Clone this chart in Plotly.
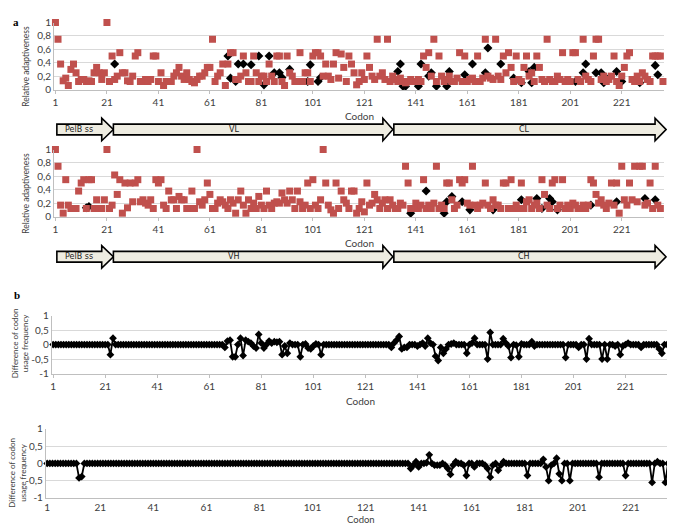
import plotly.graph_objects as go

# ---------------- data ----------------
codon_ticks = [1, 21, 41, 61, 81, 101, 121, 141, 161, 181, 201, 221]
codon_tick_text = ["1", "21", "41", "61", "81", "101", "121", "141", "161", "181", "201", "221"]

ra_ticks = [0, 0.2, 0.4, 0.6, 0.8, 1]
ra_tick_text = ["0", "0,2", "0,4", "0,6", "0,8", "1"]
diff_ticks = [-1, -0.5, 0, 0.5, 1]
diff_tick_text = ["-1", "-0,5", "0", "0,5", "1"]

# light chain: relative adaptiveness (original, red squares), codons 1..237
light_red = [
    1.0, 0.75, 0.38, 0.13, 0.17, 0.06, 0.3, 0.38, 0.25, 0.12,
    0.15, 0.15, 0.12, 0.13, 0.12, 0.25, 0.33, 0.25, 0.15, 0.25,
    1.0, 0.12, 0.5, 0.15, 0.2, 0.55, 0.25, 0.25, 0.13, 0.12,
    0.2, 0.5, 0.55, 0.12, 0.12, 0.15, 0.12, 0.15, 0.5, 0.5,
    0.12, 0.25, 0.06, 0.12, 0.12, 0.12, 0.2, 0.25, 0.33, 0.2,
    0.15, 0.25, 0.15, 0.12, 0.1, 0.15, 0.2, 0.2, 0.25, 0.33,
    0.33, 0.75, 0.12, 0.2, 0.25, 0.38, 0.06, 0.38, 0.55, 0.55,
    0.15, 0.15, 0.2, 0.5, 0.25, 0.12, 0.12, 0.5, 0.25, 0.12,
    0.2, 0.2, 0.12, 0.38, 0.2, 0.12, 0.5, 0.5, 0.12, 0.06,
    0.5, 0.25, 0.2, 0.12, 0.12, 0.55, 0.12, 0.25, 0.25, 0.12,
    0.5, 0.55, 0.55, 0.5, 0.2, 0.38, 0.2, 0.15, 0.38, 0.55,
    0.17, 0.53, 0.33, 0.12, 0.5, 0.38, 0.25, 0.07, 0.12, 0.25,
    0.15, 0.5, 0.33, 0.2, 0.15, 0.75, 0.2, 0.25, 0.15, 0.75,
    0.12, 0.2, 0.15, 0.12, 0.17, 0.12, 0.1, 0.12, 0.15, 0.12,
    0.12, 0.15, 0.12, 0.5, 0.33, 0.55, 0.2, 0.75, 0.12, 0.5,
    0.2, 0.12, 0.15, 0.2, 0.12, 0.12, 0.17, 0.55, 0.12, 0.5,
    0.12, 0.15, 0.17, 0.12, 0.5, 0.12, 0.17, 0.75, 0.2, 0.17,
    0.15, 0.75, 0.2, 0.15, 0.5, 0.25, 0.55, 0.33, 0.12, 0.5,
    0.15, 0.12, 0.33, 0.5, 0.2, 0.25, 0.12, 0.5, 0.33, 0.15,
    0.12, 0.75, 0.15, 0.12, 0.12, 0.2, 0.15, 0.55, 0.12, 0.15,
    0.12, 0.55, 0.55, 0.15, 0.12, 0.75, 0.2, 0.15, 0.12, 0.5,
    0.75, 0.75, 0.15, 0.2, 0.12, 0.15, 0.2, 0.5, 0.12, 0.06,
    0.2, 0.33, 0.5, 0.55, 0.15, 0.12, 0.2, 0.12, 0.25, 0.2,
    0.15, 0.12, 0.5, 0.5, 0.5, 0.5, 0.12,
]

# light chain: optimized codons that differ (black diamonds)
light_black_codon = [24, 68, 69, 71, 72, 74, 77, 80, 82, 84, 86, 88, 89, 92, 99, 100, 103, 104,
                     134, 135, 136, 137, 142, 143, 146, 147, 149, 153, 154, 160, 163, 168, 169,
                     174, 179, 182, 185, 186, 187, 203, 206, 207, 211, 213, 214, 216, 219, 221,
                     228, 234, 235]
light_black_value = [0.38, 0.5, 0.17, 0.12, 0.38, 0.38, 0.37, 0.5, 0.07, 0.5, 0.25, 0.25, 0.18, 0.3, 0.12, 0.37, 0.12, 0.18,
                     0.27, 0.38, 0.05, 0.05, 0.05, 0.38, 0.2, 0.25, 0.05, 0.05, 0.27, 0.22, 0.38, 0.25, 0.62,
                     0.38, 0.17, 0.1, 0.27, 0.1, 0.33, 0.12, 0.25, 0.38, 0.25, 0.25, 0.1, 0.17, 0.27, 0.12,
                     0.1, 0.36, 0.22]

# heavy chain: relative adaptiveness (original, red squares), codons 1..236
heavy_red = [
    1.0, 0.75, 0.17, 0.05, 0.55, 0.17, 0.12, 0.12, 0.12, 0.38,
    0.5, 0.55, 0.12, 0.55, 0.55, 0.12, 0.25, 0.12, 0.12, 0.25,
    1.0, 0.12, 0.17, 0.62, 0.33, 0.55, 0.05, 0.5, 0.13, 0.5,
    0.22, 0.5, 0.55, 0.22, 0.25, 0.2, 0.17, 0.25, 0.12, 0.55,
    0.5, 0.55, 0.17, 0.12, 0.38, 0.25, 0.25, 0.12, 0.3, 0.25,
    0.25, 0.12, 0.12, 0.38, 0.12, 1.0, 0.22, 0.17, 0.25, 0.5,
    0.33, 0.12, 0.12, 0.2, 0.25, 0.22, 0.17, 0.12, 0.25, 0.2,
    0.05, 0.25, 0.38, 0.17, 0.05, 0.25, 0.12, 0.2, 0.12, 0.3,
    0.17, 0.12, 0.38, 0.17, 0.12, 0.2, 0.22, 0.2, 0.35, 0.25,
    0.2, 0.38, 0.25, 0.12, 0.38, 0.22, 0.12, 0.17, 0.5, 0.12,
    0.55, 0.17, 0.12, 0.25, 1.0, 0.5, 0.17, 0.1, 0.05, 0.5,
    0.12, 0.38, 0.25, 0.2, 0.12, 0.38, 0.38, 0.05, 0.12, 0.22,
    0.07, 0.5, 0.17, 0.2, 0.33, 0.25, 0.12, 0.2, 0.25, 0.12,
    0.25, 0.17, 0.12, 0.12, 0.2, 0.17, 0.75, 0.5, 0.12, 0.12,
    0.2, 0.12, 0.17, 0.55, 0.12, 0.17, 0.12, 0.2, 0.75, 0.12,
    0.17, 0.12, 0.5, 0.5, 0.25, 0.12, 0.17, 0.55, 0.5, 0.55,
    0.2, 0.17, 0.75, 0.17, 0.12, 0.17, 0.2, 0.5, 0.17, 0.12,
    0.25, 0.17, 0.17, 0.12, 0.5, 0.5, 0.12, 0.55, 0.12, 0.17,
    0.12, 0.5, 0.12, 0.22, 0.25, 0.12, 0.17, 0.2, 0.12, 0.55,
    0.33, 0.17, 0.12, 0.5, 0.55, 0.12, 0.17, 0.55, 0.12, 0.17,
    0.12, 0.2, 0.17, 0.12, 0.12, 0.17, 0.12, 0.17, 0.55, 0.5,
    0.33, 0.2, 0.25, 0.17, 0.12, 0.2, 0.5, 0.17, 0.5, 0.05,
    0.75, 0.25, 0.17, 0.5, 0.25, 0.75, 0.22, 0.75, 0.75, 0.17,
    0.2, 0.5, 0.12, 0.75, 0.17, 0.12,
]

heavy_black_codon = [13, 14, 139, 145, 152, 153, 155, 159, 162, 171, 182, 188, 190, 193, 194, 196, 209, 219, 230, 234]
heavy_black_value = [0.13, 0.15, 0.05, 0.38, 0.05, 0.22, 0.3, 0.22, 0.1, 0.1, 0.25, 0.27, 0.12, 0.27, 0.22, 0.1, 0.17, 0.22, 0.27, 0.25]

# difference of codon usage frequency, light chain (codons 1..237)
light_diff = [
    0, 0, 0, 0, 0, 0, 0, 0, 0, 0,
    0, 0, 0, 0, 0, 0, 0, 0, 0, 0,
    0, 0, -0.35, 0.22, 0, 0, 0, 0, 0, 0,
    0, 0, 0, 0, 0, 0, 0, 0, 0, 0,
    0, 0, 0, 0, 0, 0, 0, 0, 0, 0,
    0, 0, 0, 0, 0, 0, 0, 0, 0, 0,
    0, 0, 0, 0, 0, 0, -0.1, 0.12, 0.15, -0.42,
    -0.42, 0, 0.22, -0.38, 0.15, 0.1, 0.05, -0.05, -0.12, 0.35,
    0.05, -0.12, 0, 0.12, 0.05, 0.1, 0.08, 0.1, -0.35, -0.05,
    -0.3, 0.05, 0, 0, 0, -0.42, 0, 0.02, -0.12, -0.15,
    -0.05, 0.02, 0, -0.35, 0, 0, 0, 0, 0, 0,
    0, 0, 0, 0, 0, 0, 0, 0, 0, 0,
    0, 0, 0, 0, 0, 0, 0, 0, 0, 0,
    -0.1, 0.05, 0.15, 0.28, -0.15, -0.1, -0.1, 0, 0, 0,
    -0.05, 0, 0.05, -0.05, 0.22, 0.05, 0, -0.4, -0.55, -0.1,
    -0.3, -0.15, 0, 0.02, 0.05, 0, 0, 0, 0, -0.3,
    0, 0.05, 0.22, 0, 0, 0, 0, -0.5, 0.42, 0,
    0, 0, 0, 0.2, 0.05, -0.05, -0.45, 0, -0.02, -0.42,
    0.02, 0, 0, 0, 0.1, -0.05, 0, 0, 0, 0,
    0, 0, 0, 0, 0, 0, 0, -0.45, 0, 0,
    0, 0, -0.1, 0, 0, -0.5, 0.2, 0, 0, 0,
    0, -0.5, 0, -0.5, 0, 0, -0.05, 0, -0.35, -0.05,
    0, 0.05, 0, 0, 0, 0, -0.1, 0, 0, 0,
    0, 0, 0, -0.15, -0.3, 0, 0,
]

# difference of codon usage frequency, heavy chain (codons 1..236)
heavy_diff = [
    0, 0, 0, 0, 0, 0, 0, 0, 0, 0,
    0, 0, -0.42, -0.38, 0, 0, 0, 0, 0, 0,
    0, 0, 0, 0, 0, 0, 0, 0, 0, 0,
    0, 0, 0, 0, 0, 0, 0, 0, 0, 0,
    0, 0, 0, 0, 0, 0, 0, 0, 0, 0,
    0, 0, 0, 0, 0, 0, 0, 0, 0, 0,
    0, 0, 0, 0, 0, 0, 0, 0, 0, 0,
    0, 0, 0, 0, 0, 0, 0, 0, 0, 0,
    0, 0, 0, 0, 0, 0, 0, 0, 0, 0,
    0, 0, 0, 0, 0, 0, 0, 0, 0, 0,
    0, 0, 0, 0, 0, 0, 0, 0, 0, 0,
    0, 0, 0, 0, 0, 0, 0, 0, 0, 0,
    0, 0, 0, 0, 0, 0, 0, 0, 0, 0,
    0, 0, 0, 0, 0, 0, 0, -0.15, -0.05, 0.05,
    -0.1, 0, 0, 0.02, 0.25, 0, -0.05, -0.05, -0.05, 0,
    -0.05, -0.15, -0.32, -0.05, 0.05, 0, 0, -0.05, -0.35, 0,
    0, -0.1, 0, 0, 0, -0.05, -0.15, -0.4, -0.05, 0,
    -0.2, -0.05, 0.05, 0, 0, 0, 0, 0, 0, 0,
    0, -0.35, 0, 0, 0, 0, 0, 0.12, -0.1, -0.5,
    -0.05, 0, 0.15, -0.3, -0.5, 0, 0, -0.5, 0, 0,
    0, 0, 0, 0, 0, 0, 0, 0, -0.4, 0,
    0, 0, 0, 0, 0, 0, 0, 0, -0.35, 0,
    0, 0, 0, 0, 0, 0, 0, 0, -0.55, 0,
    0.05, 0, 0, -0.55, 0, 0,
]

light_regions = ["PelB ss", "VL", "CL"]
heavy_regions = ["PelB ss", "VH", "CH"]

light_codons = list(range(1, len(light_red) + 1))
heavy_codons = list(range(1, len(heavy_red) + 1))
light_diff_codons = list(range(1, len(light_diff) + 1))
heavy_diff_codons = list(range(1, len(heavy_diff) + 1))

# ---------------- styling ----------------
# the page body keeps its default 8px margin, so the figure is laid out
# in window pixels shifted by that offset
OFF = 8
W, H = 675 - OFF, 530 - OFF

RED = "#C0504D"
GRID = "#D9D9D9"
AXIS = "#BFBFBF"
TXT = "#404040"
FONT = "Lato"


def fx(p):
    return (p - OFF) / W


def fy(p):
    return 1 - (p - OFF) / H


fig = go.Figure()

# panel a1
fig.add_trace(go.Scatter(x=light_black_codon, y=light_black_value, mode="markers",
                         marker=dict(symbol="diamond", size=7, color="black"),
                         xaxis="x", yaxis="y", cliponaxis=False, showlegend=False))
fig.add_trace(go.Scatter(x=light_codons, y=light_red, mode="markers",
                         marker=dict(symbol="square", size=7, color=RED),
                         xaxis="x", yaxis="y", cliponaxis=False, showlegend=False))
# panel a2
fig.add_trace(go.Scatter(x=heavy_black_codon, y=heavy_black_value, mode="markers",
                         marker=dict(symbol="diamond", size=7, color="black"),
                         xaxis="x2", yaxis="y2", cliponaxis=False, showlegend=False))
fig.add_trace(go.Scatter(x=heavy_codons, y=heavy_red, mode="markers",
                         marker=dict(symbol="square", size=7, color=RED),
                         xaxis="x2", yaxis="y2", cliponaxis=False, showlegend=False))
# panel b1
fig.add_trace(go.Scatter(x=light_diff_codons, y=light_diff, mode="lines+markers",
                         line=dict(color="black", width=1.8),
                         marker=dict(symbol="diamond", size=6, color="black"),
                         xaxis="x3", yaxis="y3", cliponaxis=False, showlegend=False))
# panel b2
fig.add_trace(go.Scatter(x=heavy_diff_codons, y=heavy_diff, mode="lines+markers",
                         line=dict(color="black", width=1.8),
                         marker=dict(symbol="diamond", size=6, color="black"),
                         xaxis="x4", yaxis="y4", cliponaxis=False, showlegend=False))

tickfont = dict(family=FONT, size=10, color=TXT)


def xax(dom, rng, anchor, tl=3):
    return dict(domain=dom, range=rng, anchor=anchor, tickvals=codon_ticks, ticktext=codon_tick_text,
                showgrid=False, zeroline=False, showline=True, linecolor=AXIS, linewidth=1,
                ticks="outside" if tl else "", ticklen=max(tl, 1), tickcolor=AXIS, tickfont=tickfont)


def yax(dom, rng, anchor, tv, tt):
    return dict(domain=dom, range=rng, anchor=anchor, tickvals=tv, ticktext=tt,
                showgrid=True, gridcolor=GRID, gridwidth=1, zeroline=False,
                showline=True, linecolor=AXIS, linewidth=1, ticks="", tickfont=tickfont)


fig.update_layout(
    width=W, height=H, margin=dict(l=0, r=0, t=0, b=0),
    paper_bgcolor="white", plot_bgcolor="white",
    xaxis=xax([fx(52.3), fx(664.2)], [0.5, 237.5], "y"),
    yaxis=yax([fy(85.3), fy(16.7)], [0, 1], "x", ra_ticks, ra_tick_text),
    xaxis2=xax([fx(52.3), fx(664.2)], [0.5, 237.5], "y2"),
    yaxis2=yax([fy(215.3), fy(146.7)], [0, 1], "x2", ra_ticks, ra_tick_text),
    xaxis3=xax([fx(50), fx(671)], [0.5, 238.5], "y3"),
    yaxis3=yax([fy(376), fy(316.7)], [-1, 1], "x3", diff_ticks, diff_tick_text),
    xaxis4=xax([fx(44), fx(672)], [0.5, 236.5], "y4", tl=0),
    yaxis4=yax([fy(503.3), fy(432.7)], [-1, 1], "x4", diff_ticks, diff_tick_text),
)


# region arrows
def arrow_path(x0, xb, xt, yc, hb, hh):
    pts = [(x0, yc - hb), (xb, yc - hb), (xb, yc - hh), (xt, yc), (xb, yc + hh),
           (xb, yc + hb), (x0, yc + hb)]
    return "M " + " L ".join(f"{fx(a):.5f},{fy(b):.5f}" for a, b in pts) + " Z"


arrow_x = [(55, 100, 111.7), (111.7, 382, 392), (393, 655, 666)]
label_x = [77, 233, 524]
for yc, labels in [(126.2, light_regions), (256.5, heavy_regions)]:
    for (x0, xb, xt), lx, lab in zip(arrow_x, label_x, labels):
        fig.add_shape(type="path", path=arrow_path(x0, xb, xt, yc, 5.5, 11.5),
                      xref="paper", yref="paper", fillcolor="#EEECE1",
                      line=dict(color="black", width=1.6), layer="above")
        fig.add_annotation(x=fx(lx), y=fy(yc), xref="paper", yref="paper", text=lab,
                           showarrow=False, xanchor="center", yanchor="middle",
                           font=dict(family="DejaVu Sans", size=8, color="#222222"))

title_font = dict(family=FONT, size=8.5, color=TXT)
diff_title_font = dict(family=FONT, size=8, color=TXT)

# axis titles
for cx, cy, sz in [(359, 112.5, 10), (359, 242.5, 10), (360, 404, 10), (360, 525, 9.5)]:
    fig.add_annotation(x=fx(cx), y=fy(cy), xref="paper", yref="paper", text="Codon",
                       showarrow=False, xanchor="center", yanchor="middle",
                       font=dict(family=FONT, size=sz, color=TXT))
for cy in [61, 191]:
    fig.add_annotation(x=fx(24), y=fy(cy), xref="paper", yref="paper", text="Relative adaptiveness",
                       showarrow=False, textangle=-90, xanchor="center", yanchor="middle", font=title_font)
for cx, cy in [(18, 345), (15.5, 477)]:
    fig.add_annotation(x=fx(cx), y=fy(cy), xref="paper", yref="paper",
                       text="Difference of codon<br>usage frequency",
                       showarrow=False, textangle=-90, xanchor="center", yanchor="middle",
                       font=diff_title_font)

# panel letters
fig.add_annotation(x=fx(14), y=1, xref="paper", yref="paper", text="<b>a</b>",
                   showarrow=False, xanchor="center", yanchor="top",
                   font=dict(family="Liberation Serif", size=11, color="black"))
fig.add_annotation(x=fx(15), y=fy(296), xref="paper", yref="paper", text="<b>b</b>",
                   showarrow=False, xanchor="center", yanchor="middle",
                   font=dict(family="Liberation Serif", size=11, color="black"))

fig.write_html("out.html")
